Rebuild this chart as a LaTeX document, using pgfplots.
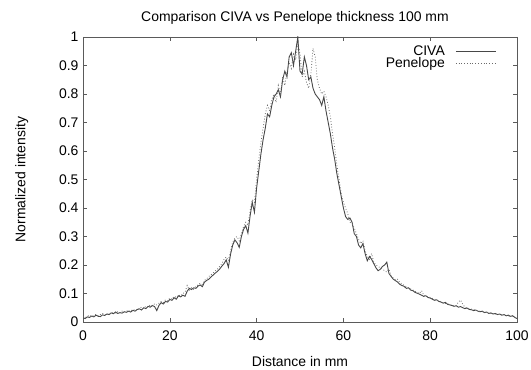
\documentclass[border=0pt]{standalone}
\usepackage{pgfplots}
\pgfplotsset{compat=1.18}
\usepackage{fontspec}
\setmainfont{Liberation Sans}
\definecolor{civa}{HTML}{474747}
\definecolor{pene}{HTML}{6A6A6A}
\definecolor{axc}{HTML}{5A5A5A}
\begin{document}
\begin{tikzpicture}
\useasboundingbox (0,0) rectangle (531bp,370bp);
\begin{axis}[
  at={(83bp,48bp)}, anchor=south west,
  scale only axis, width=434bp, height=285bp,
  xmin=0, xmax=100, ymin=0, ymax=1,
  xtick={0,20,...,100}, ytick={0,0.1,...,1},
  yticklabels={0,0.1,0.2,0.3,0.4,0.5,0.6,0.7,0.8,0.9,1},
  tick align=inside, major tick length=4bp,
  axis line style={axc, line width=0.8pt},
  tick style={axc, line width=0.6pt},
  /pgf/number format/assume math mode=true,
  tick label style={font=\fontsize{14}{14}\selectfont},
  xticklabel style={yshift=-5bp},
  yticklabel style={xshift=-1bp},
  title={Comparison CIVA vs Penelope thickness 100 mm},
  title style={font=\fontsize{14}{14}\selectfont, yshift=3bp, xshift=-5bp},
  xlabel={Distance in mm},
  ylabel={Normalized intensity},
  label style={font=\fontsize{14}{14}\selectfont},
  xlabel style={yshift=-9bp},
  ylabel style={yshift=24bp},
  legend style={draw=none, fill=none, at={(0.96,0.985)}, anchor=north east,
    font=\fontsize{14}{14}\selectfont, row sep=-3bp},
  legend cell align=right,
  legend plot pos=right,
  legend image code/.code={\path (0cm,0cm); \draw[#1] (0.3cm,0cm) -- (1.72cm,0cm);},
]
\addplot[civa, line width=0.9pt] coordinates {
(0,0.015)(0.5,0.012)(1,0.018)(1.5,0.016)(2,0.021)(2.5,0.018)(3,0.024)(3.5,0.020)(4,0.019)(4.5,0.025)
(5,0.023)(5.5,0.028)(6,0.026)(6.5,0.032)(7,0.029)(7.5,0.035)(8,0.030)(8.5,0.033)(9,0.031)(9.5,0.036)
(10,0.034)(10.5,0.038)(11,0.035)(11.5,0.041)(12,0.038)(12.5,0.044)(13,0.046)(13.5,0.042)(14,0.050)(14.5,0.047)
(15,0.055)(15.5,0.052)(16,0.058)(16.5,0.054)(17,0.040)(17.5,0.058)(18,0.068)(18.5,0.063)(19,0.072)(19.5,0.070)
(20,0.079)(20.5,0.076)(21,0.085)(21.5,0.080)(22,0.092)(22.5,0.088)(23,0.094)(23.5,0.090)(24,0.108)(24.5,0.118)
(25,0.114)(25.5,0.120)(26,0.118)(26.5,0.126)(27,0.130)(27.5,0.124)(28,0.140)(28.5,0.146)(29,0.150)(29.5,0.158)
(30,0.165)(30.5,0.172)(31,0.178)(31.5,0.186)(32,0.196)(32.5,0.205)(33,0.218)(33.5,0.192)(34,0.238)(34.5,0.270)
(35,0.288)(35.5,0.278)(36,0.262)(36.5,0.300)(37,0.325)(37.5,0.338)(38,0.312)(38.5,0.372)(39,0.420)(39.5,0.385)
(40,0.470)(40.5,0.530)(41,0.590)(41.5,0.640)(42,0.680)(42.5,0.730)(43,0.720)(43.5,0.760)(44,0.790)(44.5,0.800)
(45,0.815)(45.5,0.790)(46,0.850)(46.5,0.880)(47,0.860)(47.5,0.930)(48,0.945)(48.5,0.900)(49,0.950)(49.5,1.000)
(50,0.880)(50.5,0.870)(51,0.930)(51.5,0.900)(52,0.850)(52.5,0.860)(53,0.820)(53.5,0.800)(54,0.790)(54.5,0.780)
(55,0.760)(55.5,0.790)(56,0.740)(56.5,0.700)(57,0.660)(57.5,0.610)(58,0.570)(58.5,0.520)(59,0.480)(59.5,0.440)
(60,0.400)(60.5,0.370)(61,0.360)(61.5,0.365)(62,0.350)(62.5,0.310)(63,0.300)(63.5,0.270)(64,0.260)(64.5,0.275)
(65,0.240)(65.5,0.215)(66,0.230)(66.5,0.220)(67,0.205)(67.5,0.190)(68,0.180)(68.5,0.185)(69,0.195)(69.5,0.200)
(70,0.210)(70.5,0.170)(71,0.160)(71.5,0.150)(72,0.145)(72.5,0.140)(73,0.132)(73.5,0.128)(74,0.125)(74.5,0.118)
(75,0.120)(75.5,0.112)(76,0.110)(76.5,0.104)(77,0.101)(77.5,0.098)(78,0.094)(78.5,0.090)(79,0.092)(79.5,0.086)
(80,0.084)(80.5,0.080)(81,0.076)(81.5,0.078)(82,0.072)(82.5,0.070)(83,0.066)(83.5,0.069)(84,0.062)(84.5,0.060)
(85,0.058)(85.5,0.055)(86,0.057)(86.5,0.052)(87,0.054)(87.5,0.050)(88,0.047)(88.5,0.049)(89,0.044)(89.5,0.043)
(90,0.040)(90.5,0.042)(91,0.038)(91.5,0.036)(92,0.038)(92.5,0.033)(93,0.035)(93.5,0.030)(94,0.032)(94.5,0.028)
(95,0.030)(95.5,0.026)(96,0.028)(96.5,0.024)(97,0.026)(97.5,0.022)(98,0.024)(98.5,0.020)(99,0.022)(99.5,0.016)
(100,0.012)
};
\addlegendentry{CIVA}
\addplot[pene, line width=0.8pt, dotted] coordinates {
(0,0.018)(0.5,0.015)(1,0.020)(1.5,0.024)(2,0.019)(2.5,0.023)(3,0.027)(3.5,0.022)(4,0.026)(4.5,0.030)
(5,0.027)(5.5,0.025)(6,0.031)(6.5,0.028)(7,0.034)(7.5,0.031)(8,0.036)(8.5,0.032)(9,0.038)(9.5,0.035)
(10,0.040)(10.5,0.036)(11,0.042)(11.5,0.039)(12,0.045)(12.5,0.041)(13,0.048)(13.5,0.052)(14,0.047)(14.5,0.056)
(15,0.053)(15.5,0.060)(16,0.057)(16.5,0.064)(17,0.060)(17.5,0.066)(18,0.072)(18.5,0.068)(19,0.078)(19.5,0.074)
(20,0.084)(20.5,0.080)(21,0.090)(21.5,0.086)(22,0.095)(22.5,0.091)(23,0.100)(23.5,0.104)(24,0.128)(24.5,0.112)
(25,0.120)(25.5,0.115)(26,0.125)(26.5,0.130)(27,0.136)(27.5,0.132)(28,0.146)(28.5,0.152)(29,0.160)(29.5,0.166)
(30,0.172)(30.5,0.180)(31,0.186)(31.5,0.195)(32,0.205)(32.5,0.220)(33,0.228)(33.5,0.215)(34,0.250)(34.5,0.280)
(35,0.295)(35.5,0.300)(36,0.285)(36.5,0.310)(37,0.335)(37.5,0.350)(38,0.340)(38.5,0.390)(39,0.430)(39.5,0.420)
(40,0.500)(40.5,0.570)(41,0.630)(41.5,0.680)(42,0.730)(42.5,0.760)(43,0.740)(43.5,0.780)(44,0.800)(44.5,0.770)
(45,0.830)(45.5,0.800)(46,0.860)(46.5,0.830)(47,0.880)(47.5,0.910)(48,0.890)(48.5,0.940)(49,0.920)(49.5,0.980)
(50,0.940)(50.5,0.860)(51,0.880)(51.5,0.840)(52,0.820)(52.5,0.870)(53,0.960)(53.5,0.930)(54,0.850)(54.5,0.820)
(55,0.800)(55.5,0.810)(56,0.790)(56.5,0.760)(57,0.720)(57.5,0.660)(58,0.610)(58.5,0.550)(59,0.500)(59.5,0.450)
(60,0.420)(60.5,0.400)(61,0.380)(61.5,0.350)(62,0.345)(62.5,0.330)(63,0.310)(63.5,0.290)(64,0.275)(64.5,0.285)
(65,0.250)(65.5,0.230)(66,0.220)(66.5,0.240)(67,0.210)(67.5,0.200)(68,0.195)(68.5,0.190)(69,0.185)(69.5,0.180)
(70,0.175)(70.5,0.185)(71,0.160)(71.5,0.155)(72,0.148)(72.5,0.150)(73,0.138)(73.5,0.134)(74,0.128)(74.5,0.124)
(75,0.119)(75.5,0.116)(76,0.112)(76.5,0.108)(77,0.104)(77.5,0.100)(78,0.110)(78.5,0.094)(79,0.092)(79.5,0.088)
(80,0.086)(80.5,0.083)(81,0.080)(81.5,0.076)(82,0.074)(82.5,0.071)(83,0.068)(83.5,0.065)(84,0.064)(84.5,0.060)
(85,0.059)(85.5,0.056)(86,0.058)(86.5,0.070)(87,0.077)(87.5,0.062)(88,0.052)(88.5,0.050)(89,0.047)(89.5,0.045)
(90,0.044)(90.5,0.041)(91,0.040)(91.5,0.037)(92,0.036)(92.5,0.034)(93,0.035)(93.5,0.031)(94,0.030)(94.5,0.029)
(95,0.028)(95.5,0.026)(96,0.027)(96.5,0.024)(97,0.025)(97.5,0.022)(98,0.021)(98.5,0.019)(99,0.020)(99.5,0.016)
(100,0.014)
};
\addlegendentry{Penelope}
\end{axis}
\end{tikzpicture}
\end{document}
